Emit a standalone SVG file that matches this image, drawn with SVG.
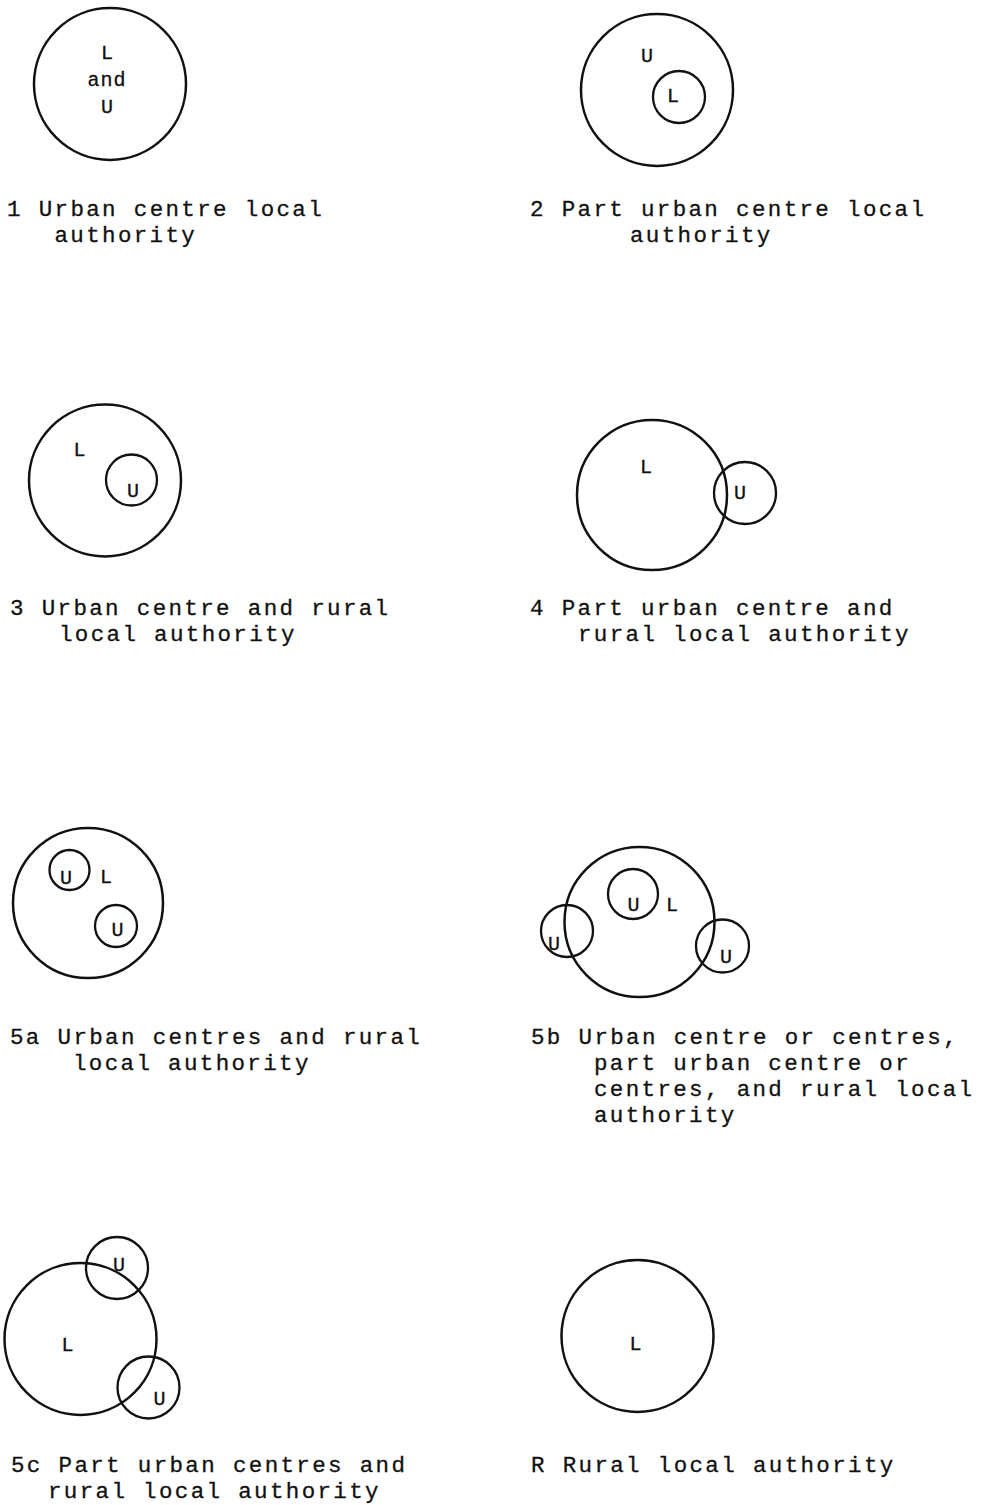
<svg xmlns="http://www.w3.org/2000/svg" width="982" height="1505" viewBox="0 0 982 1505">
<style>
.c{fill:none;stroke:#111;stroke-width:2.5}
.s{fill:none;stroke:#111;stroke-width:2.3}
.lb{font-family:"Liberation Mono","Courier New",monospace;font-size:20px;fill:#111;stroke:#111;stroke-width:0.3;text-anchor:middle}
.cap{font-family:"Liberation Mono","Courier New",monospace;font-size:22.5px;letter-spacing:2.35px;fill:#111;stroke:#111;stroke-width:0.3}
</style>
<rect width="982" height="1505" fill="#fff"/>
<g id="panel-1">
<circle class="c" cx="110" cy="84" r="76"/>
<text class="lb" x="107" y="59">L</text>
<text class="lb" x="107" y="86" letter-spacing="1">and</text>
<text class="lb" x="107" y="113">U</text>
<text class="cap" x="7" y="216">1 Urban centre local</text>
<text class="cap" x="54.5" y="242">authority</text>
</g>
<g id="panel-2">
<circle class="c" cx="657" cy="90" r="76"/>
<circle class="s" cx="679" cy="97" r="26"/>
<text class="lb" x="647" y="62">U</text>
<text class="lb" x="673" y="102">L</text>
<text class="cap" x="530" y="216">2 Part urban centre local</text>
<text class="cap" x="630" y="242">authority</text>
</g>
<g id="panel-3">
<circle class="c" cx="105" cy="480.5" r="76"/>
<circle class="s" cx="131.5" cy="480" r="25.5"/>
<text class="lb" x="79.5" y="456">L</text>
<text class="lb" x="133" y="497">U</text>
<text class="cap" x="10" y="615">3 Urban centre and rural</text>
<text class="cap" x="59" y="641">local authority</text>
</g>
<g id="panel-4">
<circle class="c" cx="652" cy="495" r="75"/>
<circle class="s" cx="745" cy="493" r="31"/>
<text class="lb" x="646" y="473">L</text>
<text class="lb" x="740" y="499">U</text>
<text class="cap" x="530" y="615">4 Part urban centre and</text>
<text class="cap" x="578" y="641">rural local authority</text>
</g>
<g id="panel-5a">
<circle class="c" cx="88" cy="903" r="75"/>
<circle class="s" cx="69.5" cy="870" r="20"/>
<circle class="s" cx="116" cy="926" r="21"/>
<text class="lb" x="66" y="884">U</text>
<text class="lb" x="106" y="883">L</text>
<text class="lb" x="117.5" y="936">U</text>
<text class="cap" x="10" y="1044">5a Urban centres and rural</text>
<text class="cap" x="73" y="1070">local authority</text>
</g>
<g id="panel-5b">
<circle class="c" cx="639.5" cy="922" r="75"/>
<circle class="s" cx="633" cy="894" r="25"/>
<circle class="s" cx="567" cy="931" r="26"/>
<circle class="s" cx="722.5" cy="946" r="26.5"/>
<text class="lb" x="633.5" y="911">U</text>
<text class="lb" x="672" y="911">L</text>
<text class="lb" x="554" y="950">U</text>
<text class="lb" x="726" y="963">U</text>
<text class="cap" x="531" y="1044">5b Urban centre or centres,</text>
<text class="cap" x="594" y="1070">part urban centre or</text>
<text class="cap" x="594" y="1096">centres, and rural local</text>
<text class="cap" x="594" y="1122">authority</text>
</g>
<g id="panel-5c">
<circle class="c" cx="80.5" cy="1339" r="76"/>
<circle class="s" cx="117" cy="1268" r="31"/>
<circle class="s" cx="148.5" cy="1387.5" r="31"/>
<text class="lb" x="119" y="1271">U</text>
<text class="lb" x="67.5" y="1351">L</text>
<text class="lb" x="159.5" y="1405">U</text>
<text class="cap" x="11" y="1472">5c Part urban centres and</text>
<text class="cap" x="48" y="1498">rural local authority</text>
</g>
<g id="panel-R">
<circle class="c" cx="637.5" cy="1336" r="76"/>
<text class="lb" x="635.5" y="1350">L</text>
<text class="cap" x="531" y="1472">R Rural local authority</text>
</g>
<g id="connectors"></g>
</svg>
